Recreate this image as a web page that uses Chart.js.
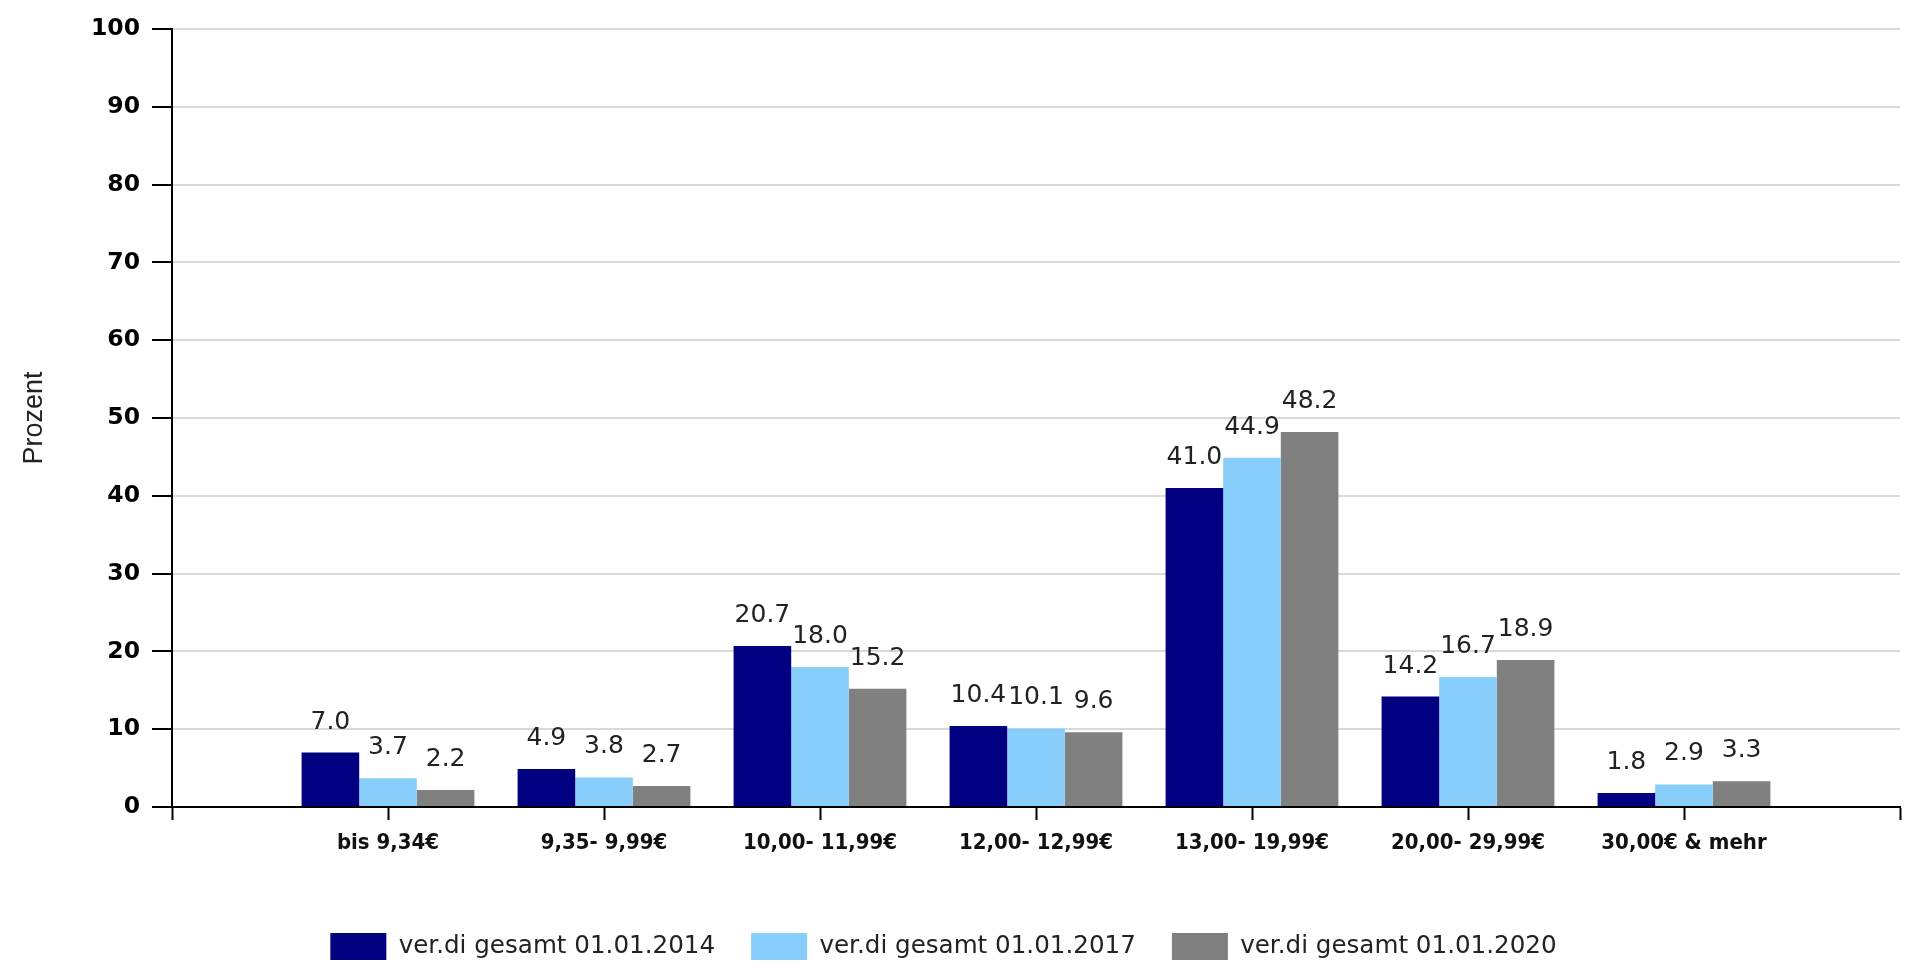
<!DOCTYPE html>
<html>
<head>
<meta charset="utf-8">
<script src="https://cdn.jsdelivr.net/npm/chart.js@4"></script>
<style>
  html, body { margin: 0; padding: 0; background: #fff; }
  #wrap { width: 1910px; height: 970px; }
</style>
</head>
<body>
<div id="wrap"><canvas id="chart" width="1910" height="970"></canvas></div>
<script>
// data
const categories = ['bis 9,34€', '9,35- 9,99€', '10,00- 11,99€', '12,00- 12,99€', '13,00- 19,99€', '20,00- 29,99€', '30,00€ & mehr'];
const seriesNames = ['ver.di gesamt 01.01.2014', 'ver.di gesamt 01.01.2017', 'ver.di gesamt 01.01.2020'];
const values2014 = [7.0, 4.9, 20.7, 10.4, 41.0, 14.2, 1.8];
const values2017 = [3.7, 3.8, 18.0, 10.1, 44.9, 16.7, 2.9];
const values2020 = [2.2, 2.7, 15.2, 9.6, 48.2, 18.9, 3.3];
const yTicks = [0, 10, 20, 30, 40, 50, 60, 70, 80, 90, 100];
const seriesColors = ['#000080', '#87CEFA', '#808080'];

// the original axis has an empty slot before the first and after the last category
const axisLabels = [''].concat(categories, ['']);
const pad = (arr) => [null].concat(arr, [null]);

// writes the value above every bar
const barValueLabels = {
    id: 'barValueLabels',
    afterDatasetsDraw(chart) {
        const ctx = chart.ctx;
        ctx.save();
        ctx.font = '25px "DejaVu Sans"';
        ctx.fillStyle = '#222';
        ctx.textAlign = 'center';
        ctx.textBaseline = 'alphabetic';
        chart.data.datasets.forEach((ds, i) => {
            const meta = chart.getDatasetMeta(i);
            meta.data.forEach((bar, j) => {
                const v = ds.data[j];
                if (v === null || v === undefined) return;
                ctx.fillText(v.toFixed(1), bar.x, bar.y - 24);
            });
        });
        ctx.restore();
    }
};

// the original legend sits a little left of the canvas centre
const legendShift = {
    id: 'legendShift',
    afterLayout(chart) {
        if (chart.legend) chart.legend.right -= 14;
    }
};

const allValues = [values2014, values2017, values2020];

new Chart(document.getElementById('chart'), {
    type: 'bar',
    data: {
        labels: axisLabels,
        datasets: seriesNames.map((name, i) => ({
            label: name,
            data: pad(allValues[i]),
            backgroundColor: seriesColors[i],
            borderWidth: 0,
            categoryPercentage: 0.8,
            barPercentage: 1.0
        }))
    },
    options: {
        responsive: false,
        animation: false,
        layout: { padding: { top: 29, right: 9, left: 0, bottom: 0 } },
        plugins: {
            tooltip: { enabled: false },
            legend: {
                position: 'bottom',
                maxHeight: 74,
                labels: {
                    boxWidth: 56,
                    boxHeight: 27,
                    padding: 36,
                    color: '#222',
                    font: { family: '"DejaVu Sans"', size: 24.6 }
                }
            }
        },
        scales: {
            x: {
                offset: false,
                grid: { offset: false, drawOnChartArea: false, tickLength: 13, tickColor: '#000', tickWidth: 2 },
                border: { display: true, color: '#000', width: 2 },
                ticks: {
                    autoSkip: false,
                    maxRotation: 0,
                    padding: 10,
                    color: '#111',
                    font: { family: '"DejaVu Sans Condensed", "DejaVu Sans"', size: 22, weight: 'bold' }
                },
                afterFit(scale) { scale.height = 90; }
            },
            y: {
                min: 0,
                max: 100,
                afterBuildTicks(scale) { scale.ticks = yTicks.map(v => ({ value: v })); },
                grid: { color: '#d9d9d9', lineWidth: 2, tickLength: 20, tickColor: '#000', tickWidth: 2 },
                border: { display: true, color: '#000', width: 2 },
                ticks: {
                    padding: 12,
                    color: '#000',
                    font: { family: '"DejaVu Sans"', size: 23.5, weight: 'bold' }
                },
                title: {
                    display: true,
                    text: 'Prozent',
                    color: '#222',
                    padding: { top: 18, bottom: 0 },
                    font: { family: '"Liberation Sans"', size: 27 }
                },
                afterFit(scale) { scale.width = 172; }
            }
        }
    },
    plugins: [barValueLabels, legendShift]
});
</script>
</body>
</html>
